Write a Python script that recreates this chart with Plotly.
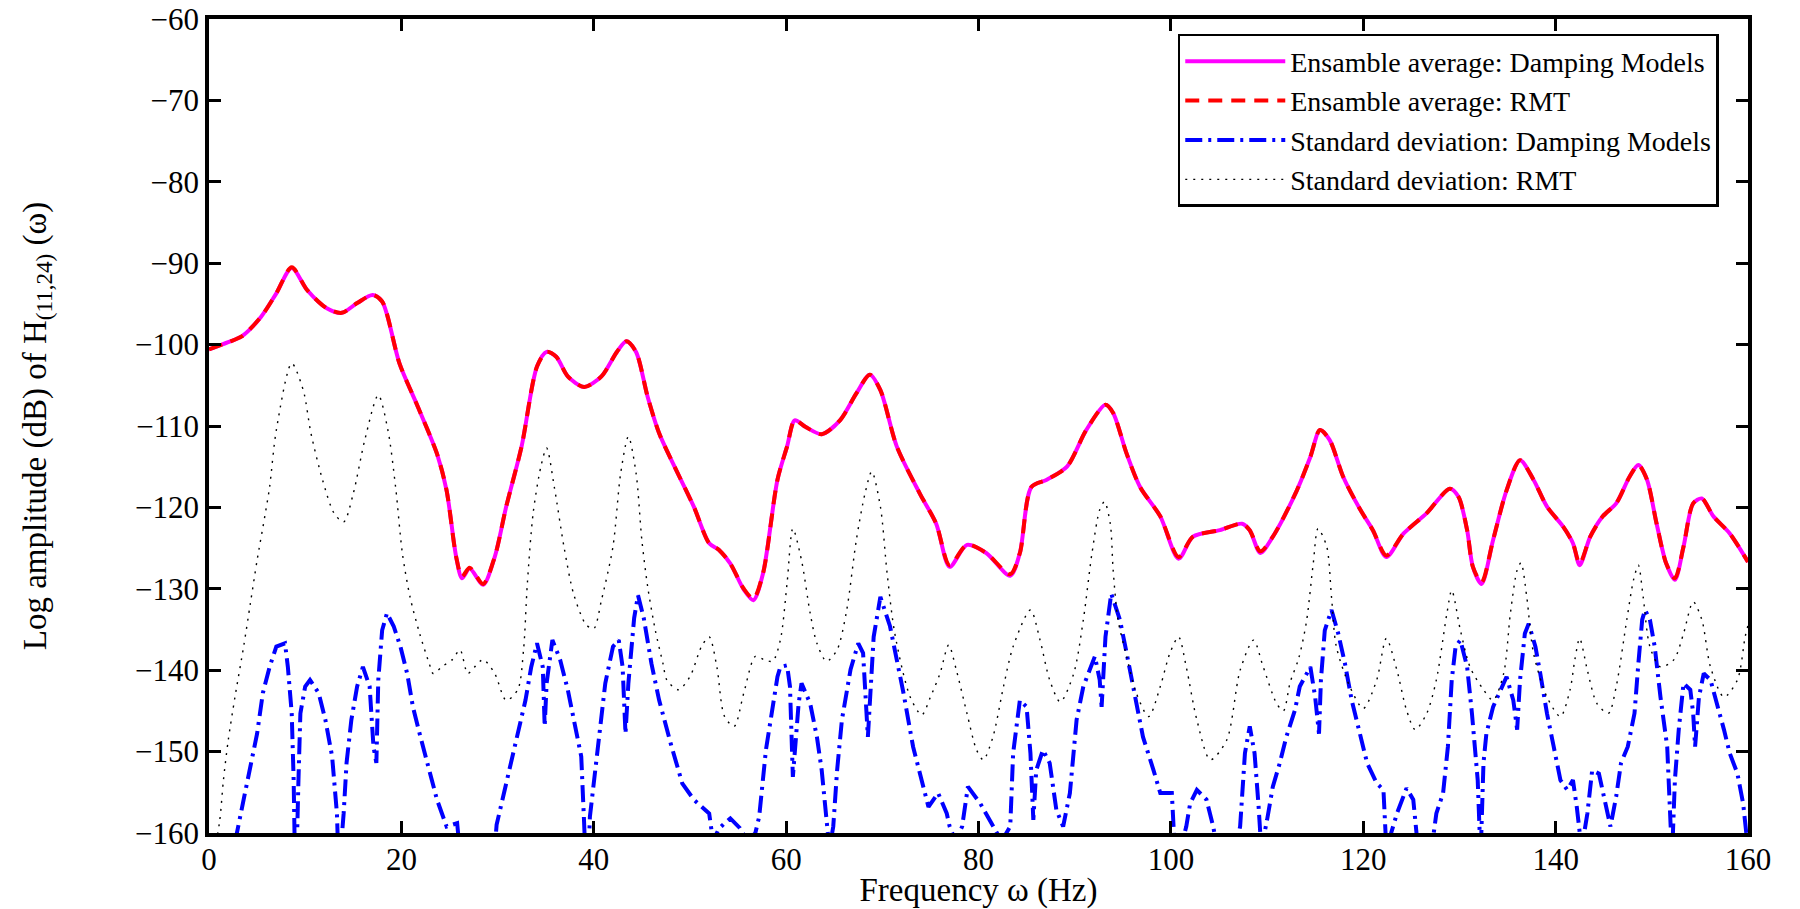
import plotly.graph_objects as go

# ---------------- data ----------------
freq_mean = [0, 2.0, 3.4, 5.4, 7.0, 8.6, 10.2, 12.2, 13.8, 15.4, 17.0, 18.0, 19.8, 21.7, 23.7,
             24.7, 25.7, 26.3, 27.1, 28.5, 29.7, 30.9, 32.5, 34.1, 35.1, 36.1, 37.3, 39.0, 40.8,
             42.4, 43.4, 44.4, 45.6, 46.8, 48.4, 50.4, 52.0, 53.0, 54.2, 55.6, 56.6, 57.6, 59.1,
             60.1, 60.9, 62.0, 63.7, 65.6, 67.3, 68.7, 69.8, 71.5, 73.9, 75.6, 77.0, 78.8, 80.8,
             83.3, 84.3, 85.5, 87.1, 89.2, 91.2, 93.2, 94.0, 95.4, 96.8, 98.9, 100.8, 102.3, 105.1,
             107.4, 108.2, 109.3, 110.6, 113.1, 114.5, 115.5, 116.5, 117.9, 119.7, 121.0, 122.4,
             124.2, 126.6, 129.0, 129.9, 130.8, 131.4, 132.3, 133.5, 134.9, 136.3, 137.7, 139.1,
             140.8, 141.8, 142.5, 143.6, 144.9, 146.3, 147.7, 148.6, 149.5, 150.5, 151.5, 152.4,
             153.3, 154.3, 155.2, 156.4, 158.1, 160.0]
mean_damping = [-100.6, -99.7, -99.0, -96.6, -93.7, -90.6, -93.3, -95.5, -96.1, -94.9, -93.9, -94.7,
                -102.3, -107.6, -113.4, -117.9, -126.1, -128.7, -127.5, -129.5, -126.1, -119.9, -112.5,
                -102.7, -100.9, -101.5, -103.9, -105.2, -103.9, -100.9, -99.6, -100.9, -106.4, -110.9,
                -115.0, -119.9, -124.4, -125.2, -126.9, -130.1, -131.4, -128.1, -116.6, -112.5, -109.3,
                -110.1, -111.0, -109.3, -106.0, -103.7, -105.6, -112.5, -118.3, -122.0, -127.3, -124.6,
                -125.6, -128.4, -125.6, -117.5, -116.6, -115.0, -110.5, -107.4, -108.4, -113.4, -117.5,
                -121.1, -126.3, -123.6, -122.8, -122.0, -122.8, -125.6, -123.6, -117.9, -113.8, -110.5,
                -111.7, -116.2, -120.3, -122.8, -126.1, -123.2, -120.7, -117.7, -118.7, -122.8, -127.3,
                -129.4, -124.0, -117.9, -114.2, -116.6, -119.9, -122.4, -124.4, -127.1, -123.6, -121.1,
                -119.5, -116.2, -114.8, -116.6, -122.0, -126.9, -128.9, -124.8, -119.5, -118.9, -121.1,
                -123.2, -126.7]
mean_rmt = [-100.6, -99.7, -99.0, -96.6, -93.7, -90.5, -93.3, -95.5, -96.1, -94.9, -93.9, -94.7,
            -102.3, -107.6, -113.4, -117.9, -126.1, -128.5, -127.4, -129.4, -126.1, -119.9, -112.5,
            -102.7, -100.9, -101.5, -103.9, -105.2, -103.9, -100.9, -99.6, -100.9, -106.4, -110.9,
            -115.0, -119.9, -124.4, -125.2, -126.9, -130.0, -131.2, -128.1, -116.6, -112.5, -109.3,
            -110.1, -111.0, -109.3, -106.0, -103.7, -105.6, -112.5, -118.3, -122.0, -127.1, -124.6,
            -125.6, -128.2, -125.6, -117.5, -116.6, -115.0, -110.5, -107.4, -108.4, -113.4, -117.5,
            -121.1, -126.1, -123.6, -122.8, -122.0, -122.8, -125.4, -123.6, -117.9, -113.8, -110.5,
            -111.7, -116.2, -120.3, -122.8, -125.9, -123.2, -120.7, -117.7, -118.7, -122.8, -127.3,
            -129.2, -124.0, -117.9, -114.2, -116.6, -119.9, -122.4, -124.4, -126.9, -123.6, -121.1,
            -119.5, -116.2, -114.8, -116.6, -122.0, -126.9, -128.7, -124.8, -119.5, -118.9, -121.1,
            -123.2, -126.7]

freq_std_rmt = [0, 1.1, 1.5, 2.0, 2.7, 3.6, 4.3, 5.0, 5.8, 6.3, 7.0, 8.6, 9.8, 10.6, 11.8, 13.0,
                14.0, 15.0, 16.2, 17.6, 18.6, 19.4, 20.1, 20.9, 21.9, 22.9, 23.3, 24.3, 25.3, 26.1,
                26.9, 27.7, 28.5, 29.7, 30.9, 32.1, 32.7, 33.1, 33.7, 34.5, 35.1, 35.9, 36.9, 37.9,
                39.2, 40.0, 40.8, 42.0, 42.8, 43.6, 44.4, 45.0, 45.6, 46.4, 47.2, 47.6, 48.8, 50.0,
                51.2, 52.0, 52.8, 53.6, 54.6, 55.6, 56.8, 57.7, 58.6, 59.4, 60.1, 60.7, 61.6, 62.5,
                63.2, 64.2, 65.3, 66.3, 67.3, 68.2, 68.9, 69.8, 70.5, 71.3, 72.9, 74.1, 75.0, 76.0,
                76.9, 77.7, 78.8, 79.8, 80.5, 81.5, 82.6, 83.6, 85.4, 86.4, 87.4, 88.5, 89.9, 90.9,
                91.8, 92.6, 93.1, 93.7, 94.0, 94.5, 95.4, 96.4, 97.7, 98.9, 99.9, 100.8, 101.6, 102.7,
                104.1, 105.8, 107.2, 108.6, 109.6, 111.0, 111.7, 112.4, 113.3, 114.1, 114.8, 115.3,
                116.2, 116.7, 117.2, 118.6, 120.0, 121.4, 122.4, 123.5, 124.5, 125.4, 126.6, 127.6,
                128.7, 129.2, 130.1, 131.1, 132.5, 133.5, 134.6, 135.3, 136.0, 136.4, 137.0, 137.7,
                139.1, 140.5, 141.5, 142.0, 142.5, 143.3, 144.3, 145.5, 146.3, 147.4, 148.1, 148.6,
                149.1, 149.8, 150.9, 152.3, 153.3, 154.3, 155.2, 156.1, 157.5, 158.9, 159.7, 160.0]
std_rmt = [-166.0, -158.6, -153.5, -148.6, -143.3, -137.1, -131.8, -126.5, -121.1, -117.5, -110.5,
           -102.3, -105.6, -110.9, -116.6, -120.7, -121.8, -118.3, -111.7, -106.2, -110.5, -117.5,
           -125.6, -131.0, -135.5, -139.2, -140.4, -139.5, -138.7, -137.5, -140.4, -139.5, -138.7,
           -140.4, -143.7, -142.4, -137.5, -129.3, -120.7, -115.0, -112.7, -117.5, -124.8, -130.6,
           -134.4, -134.9, -131.4, -124.8, -115.8, -111.3, -115.8, -124.0, -129.7, -135.1, -139.2,
           -141.2, -142.4, -140.8, -137.1, -135.9, -139.6, -145.7, -146.9, -142.8, -138.3, -138.7,
           -138.9, -136.3, -129.3, -122.6, -126.5, -133.0, -136.7, -138.9, -137.5, -132.6, -124.0,
           -118.3, -115.6, -119.9, -128.1, -135.5, -143.3, -145.5, -143.3, -140.4, -136.9, -140.0,
           -145.3, -149.8, -151.0, -148.2, -142.0, -137.1, -132.6, -136.3, -141.2, -143.9, -140.4,
           -133.8, -125.6, -120.3, -119.3, -122.0, -127.7, -133.8, -138.3, -142.8, -145.7, -142.0,
           -137.9, -135.9, -139.6, -146.1, -151.0, -148.6, -140.0, -136.3, -139.6, -144.1, -145.0,
           -141.5, -138.5, -134.0, -126.9, -122.6, -124.8, -131.0, -137.1, -142.0, -144.7, -141.2,
           -136.1, -140.0, -144.9, -147.3, -145.3, -141.2, -133.0, -130.2, -135.1, -139.6, -142.4,
           -143.7, -140.4, -133.0, -127.7, -126.8, -131.0, -137.9, -143.3, -145.7, -142.4, -138.7,
           -136.1, -140.0, -144.1, -145.3, -142.0, -133.8, -128.9, -127.1, -131.0, -137.1, -139.6,
           -138.7, -135.5, -131.6, -133.8, -139.6, -143.3, -141.2, -135.9, -134.5]

freq_std_damp = [2.5, 2.9, 3.6, 4.3, 5.0, 5.6, 6.3, 7.0, 7.9, 8.2, 8.6, 8.8, 9.0, 9.3, 9.5, 10.0,
                 10.5, 11.4, 12.1, 12.8, 13.3, 13.5, 14.0, 14.3, 14.8, 15.4, 16.0, 16.7, 17.1, 17.4,
                 17.6, 18.0, 18.5, 19.2, 19.9, 20.6, 21.2, 21.9, 23.0, 23.7, 24.7, 25.8, 26.3, 29.5,
                 29.9, 30.9, 32.1, 32.9, 33.5, 34.1, 34.7, 34.9, 35.1, 35.7, 36.5, 37.3, 38.0, 38.7,
                 39.0, 39.3, 39.6, 40.0, 40.6, 41.2, 42.0, 42.6, 43.0, 43.3, 43.6, 44.2, 44.6, 45.2,
                 46.0, 46.8, 48.0, 49.2, 50.4, 52.0, 52.4, 53.0, 53.6, 54.2, 55.2, 56.0, 56.8, 57.2,
                 57.9, 58.7, 59.1, 59.4, 60.1, 60.4, 60.7, 61.3, 61.6, 62.5, 63.2, 63.7, 64.2, 64.5,
                 64.9, 65.3, 65.8, 66.7, 67.5, 68.0, 68.5, 69.1, 69.8, 70.8, 71.5, 72.2, 73.2, 74.3,
                 74.8, 75.8, 76.7, 77.0, 77.6, 78.3, 78.9, 80.2, 81.5, 82.4, 83.3, 83.6, 84.3, 85.0,
                 85.4, 85.7, 86.0, 86.7, 87.4, 88.1, 88.8, 89.5, 90.2, 90.9, 92.1, 92.6, 92.8, 93.2,
                 93.8, 94.7, 95.4, 96.1, 97.1, 98.2, 98.9, 100.1, 100.4, 101.0, 101.6, 102.0, 102.7,
                 103.7, 104.4, 105.0, 106.5, 107.2, 107.7, 108.2, 108.7, 109.1, 109.4, 110.0, 110.6,
                 111.3, 112.0, 112.9, 113.4, 114.5, 115.0, 115.4, 115.6, 116.0, 116.7, 117.4, 118.1,
                 118.8, 119.5, 120.4, 121.4, 122.1, 122.4, 123.5, 124.5, 125.2, 125.7, 127.1, 127.6,
                 128.3, 128.8, 129.2, 129.6, 130.1, 130.8, 131.3, 131.9, 132.2, 132.5, 132.8, 133.5,
                 134.4, 134.9, 135.6, 136.0, 136.3, 136.8, 137.2, 137.9, 138.4, 139.1, 139.8, 140.5,
                 141.2, 141.8, 142.2, 142.7, 143.3, 143.8, 144.5, 145.2, 145.7, 146.3, 146.8, 147.5,
                 148.2, 148.6, 149.0, 149.3, 149.8, 150.3, 150.9, 151.6, 152.1, 152.4, 152.8, 153.3,
                 154.0, 154.3, 154.5, 154.9, 155.4, 156.1, 156.8, 157.5, 158.1, 158.9, 159.5, 160.0]
std_damp = [-165.0, -160.0, -155.9, -151.9, -147.8, -142.8, -139.6, -137.1, -136.7, -139.6, -145.3,
            -153.5, -168.0, -153.5, -145.3, -142.0, -141.2, -142.8, -146.1, -150.6, -157.6, -165.0,
            -157.6, -151.4, -146.1, -142.0, -139.6, -142.0, -149.4, -151.4, -141.2, -135.1, -133.0,
            -134.6, -137.1, -140.4, -144.5, -147.8, -152.7, -155.9, -159.2, -158.8, -165.0, -165.0,
            -159.0, -153.9, -147.8, -143.7, -139.6, -136.7, -139.6, -146.9, -141.6, -136.3, -138.7,
            -142.4, -146.5, -150.6, -158.8, -168.0, -158.0, -153.9, -147.8, -141.6, -137.1, -136.3,
            -139.6, -147.8, -141.6, -133.6, -130.8, -133.6, -139.2, -143.7, -149.0, -153.9, -155.9,
            -157.6, -161.0, -159.5, -158.8, -158.2, -159.4, -161.0, -160.0, -158.0, -149.8, -143.7,
            -140.8, -139.6, -139.4, -142.0, -153.1, -144.1, -141.6, -144.1, -148.2, -152.3, -159.2,
            -162.0, -159.2, -152.3, -146.1, -139.9, -136.7, -137.9, -148.2, -135.9, -131.0, -134.6,
            -138.7, -142.8, -149.4, -154.3, -156.8, -155.1, -157.6, -159.2, -161.0, -159.2, -154.3,
            -156.4, -159.2, -161.0, -159.2, -150.2, -143.7, -144.5, -150.2, -158.4, -152.3, -149.8,
            -151.4, -157.2, -159.2, -155.1, -146.1, -142.0, -138.3, -141.2, -144.5, -135.9, -130.6,
            -133.8, -137.9, -142.0, -148.2, -152.3, -155.1, -155.1, -162.0, -162.0, -159.2, -156.4,
            -154.7, -155.9, -159.2, -163.0, -163.0, -159.2, -150.2, -146.9, -150.2, -156.4, -162.0,
            -158.4, -154.3, -151.5, -148.2, -144.9, -142.0, -139.6, -143.3, -147.8, -141.2, -135.1,
            -132.6, -135.5, -139.2, -143.7, -147.3, -151.4, -153.9, -154.7, -162.0, -157.6, -154.5,
            -155.9, -162.0, -162.0, -157.6, -155.1, -149.4, -141.2, -137.1, -136.3, -139.6, -145.3,
            -153.5, -163.0, -151.4, -147.8, -144.5, -142.0, -140.8, -143.7, -147.3, -141.2, -135.5,
            -134.3, -137.1, -140.4, -145.3, -149.4, -153.5, -154.7, -153.5, -156.8, -162.0, -157.6,
            -152.3, -152.7, -156.4, -159.2, -155.5, -151.4, -149.4, -145.3, -139.2, -133.8, -132.6,
            -133.8, -137.1, -143.3, -149.4, -163.0, -153.5, -147.3, -141.6, -142.4, -145.3, -149.4,
            -143.3, -140.4, -141.2, -144.1, -147.3, -150.2, -152.7, -156.4, -162.0]

x_ticks = [0, 20, 40, 60, 80, 100, 120, 140, 160]
y_ticks = [-160, -150, -140, -130, -120, -110, -100, -90, -80, -70, -60]

names = ["Ensamble average: Damping Models",
         "Ensamble average: RMT",
         "Standard deviation: Damping Models",
         "Standard deviation: RMT"]

FONT = "Liberation Serif"

fig = go.Figure()
fig.add_trace(go.Scatter(x=freq_mean, y=mean_damping, mode="lines", name=names[0],
                         line=dict(color="#ff00ff", width=4, shape="spline", smoothing=0.8)))
fig.add_trace(go.Scatter(x=freq_mean, y=mean_rmt, mode="lines", name=names[1],
                         line=dict(color="#ff0000", width=4, dash="14px,9px",
                                   shape="spline", smoothing=0.8)))
fig.add_trace(go.Scatter(x=freq_std_damp, y=std_damp, mode="lines", name=names[2],
                         line=dict(color="#0000ff", width=4, dash="17px,6px,3px,6px")))
fig.add_trace(go.Scatter(x=freq_std_rmt, y=std_rmt, mode="lines", name=names[3],
                         line=dict(color="#000000", width=1.4, dash="2px,6px",
                                   shape="spline", smoothing=0.8)))

axis_common = dict(showgrid=False, zeroline=False, showline=True, linecolor="black",
                   linewidth=3.5, mirror="ticks", ticks="inside", ticklen=12, tickwidth=3,
                   tickcolor="black", automargin=False,
                   tickfont=dict(family=FONT, size=31, color="black"))

fig.update_xaxes(range=[0, 160], tickvals=x_ticks, ticklabelstandoff=-4,
                 title=dict(text="Frequency ω (Hz)", font=dict(family=FONT, size=33, color="black"),
                            standoff=5),
                 **axis_common)
fig.update_yaxes(range=[-160, -60], tickvals=y_ticks,
                 title=dict(text="Log amplitude (dB) of H<sub>(11,24)</sub> (ω)",
                            font=dict(family=FONT, size=33, color="black"), standoff=80),
                 **axis_common)

fig.update_layout(
    width=1800, height=909, autosize=False,
    margin=dict(l=209, r=52, t=19, b=76, pad=0, autoexpand=False),
    paper_bgcolor="white", plot_bgcolor="white",
    font=dict(family=FONT, color="black"),
    showlegend=True,
    legend=dict(x=0.981, y=0.9816, xanchor="right", yanchor="top",
                bgcolor="white", bordercolor="black", borderwidth=2.5,
                font=dict(family=FONT, size=28, color="black"),
                itemwidth=100, tracegroupgap=0),
)

fig.write_html("out.html", config={"displayModeBar": False},
               post_script="document.body.style.margin='0';")
